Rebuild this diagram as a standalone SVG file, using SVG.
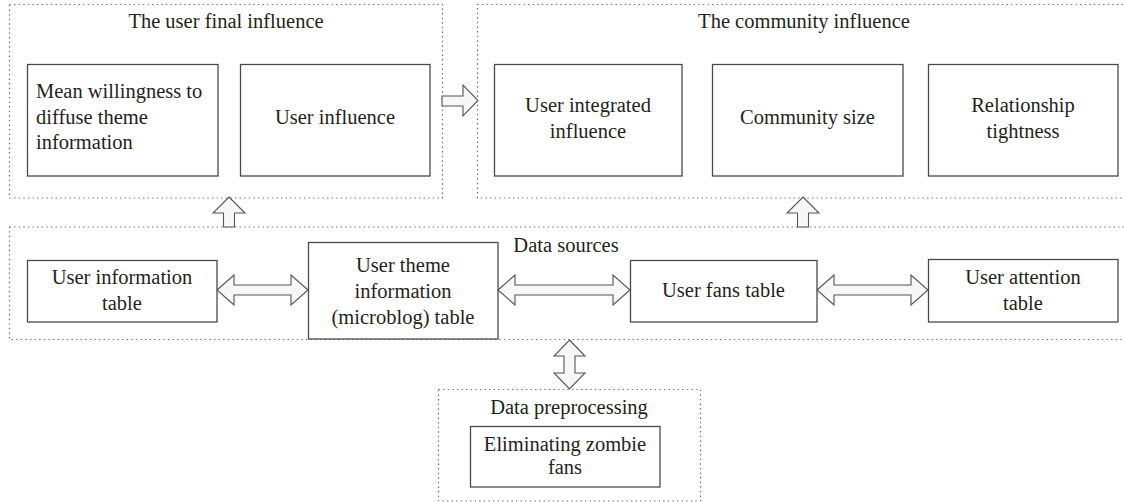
<svg xmlns="http://www.w3.org/2000/svg" width="1124" height="502" viewBox="0 0 1124 502">
<style>
.grp{fill:none;stroke:#6d6d6d;stroke-width:1.2;stroke-dasharray:1.4 3.2}
.box{fill:#ffffff;stroke:#4a4a4a;stroke-width:1.3}
.arr{fill:#f7f7f7;stroke:#555555;stroke-width:1.1;stroke-linejoin:miter}
text{font-family:"Liberation Serif","Times New Roman",serif;font-size:20.5px;fill:#231f20}
.c{text-anchor:middle}
</style>
<rect width="1124" height="502" fill="#ffffff"/>
<g id="group-user-final">
<rect class="grp" x="9.5" y="4.5" width="433" height="193.5"/>
<text class="c" x="226" y="28">The user final influence</text>
</g>
<g id="group-community">
<rect class="grp" x="477.5" y="4.5" width="660" height="193.5"/>
<text class="c" x="804" y="28">The community influence</text>
</g>
<g id="group-data-sources">
<rect class="grp" x="9.5" y="227" width="1130" height="112.5"/>
<text class="c" x="566" y="252">Data sources</text>
</g>
<g id="group-preprocessing">
<rect class="grp" x="438.5" y="389.5" width="262" height="111.5"/>
<text class="c" x="569" y="414">Data preprocessing</text>
</g>
<g id="node-mean-willingness">
<rect class="box" x="27.5" y="64.5" width="190.5" height="111.5"/>
<text x="36" y="98">Mean willingness to</text>
<text x="36" y="124">diffuse theme</text>
<text x="36" y="149">information</text>
</g>
<g id="node-user-influence">
<rect class="box" x="240.5" y="64.5" width="189.5" height="111.5"/>
<text class="c" x="335" y="124">User influence</text>
</g>
<g id="node-user-integrated">
<rect class="box" x="494.5" y="64.5" width="187.5" height="111.5"/>
<text class="c" x="588" y="112">User integrated</text>
<text class="c" x="588" y="137.5">influence</text>
</g>
<g id="node-community-size">
<rect class="box" x="712.5" y="64.5" width="190.5" height="111.5"/>
<text class="c" x="807.5" y="124">Community size</text>
</g>
<g id="node-relationship">
<rect class="box" x="928.5" y="64.5" width="189.5" height="111.5"/>
<text class="c" x="1023" y="112">Relationship</text>
<text class="c" x="1023" y="137.5">tightness</text>
</g>
<g id="node-user-information">
<rect class="box" x="27.5" y="260.5" width="189.5" height="61.5"/>
<text class="c" x="122" y="284">User information</text>
<text class="c" x="122" y="309.5">table</text>
</g>
<g id="node-user-theme">
<rect class="box" x="308.5" y="242.5" width="189.5" height="96.5"/>
<text class="c" x="403" y="272">User theme</text>
<text class="c" x="403" y="298">information</text>
<text class="c" x="403" y="323.5">(microblog) table</text>
</g>
<g id="node-user-fans">
<rect class="box" x="630.5" y="260.5" width="186.5" height="61.5"/>
<text class="c" x="723.5" y="297">User fans table</text>
</g>
<g id="node-user-attention">
<rect class="box" x="928.5" y="259.5" width="189.5" height="62.5"/>
<text class="c" x="1023" y="284">User attention</text>
<text class="c" x="1023" y="309.5">table</text>
</g>
<g id="node-eliminating">
<rect class="box" x="470.5" y="426.5" width="189.5" height="60.5"/>
<text class="c" x="565" y="451">Eliminating zombie</text>
<text class="c" x="565" y="474">fans</text>
</g>
<g id="connectors">
<polygon class="arr" points="442,96 463,96 463,85 478,100.5 463,116 463,106 442,106"/>
<polygon class="arr" points="229,197 245,213 234.5,213 234.5,227 223.5,227 223.5,213 213,213"/>
<polygon class="arr" points="803,197 819,213 808.5,213 808.5,227 797.5,227 797.5,213 787,213"/>
<polygon class="arr" points="217,290 234,275 234,285 291,285 291,275 308,290 291,305 291,295 234,295 234,305"/>
<polygon class="arr" points="498,290 515,275 515,285 613,285 613,275 630,290 613,305 613,295 515,295 515,305"/>
<polygon class="arr" points="817,290 834,275 834,285 911,285 911,275 928,290 911,305 911,295 834,295 834,305"/>
<polygon class="arr" points="569.5,340 585,356 575,356 575,373 585,373 569.5,389 554,373 564,373 564,356 554,356"/>
</g>
</svg>
